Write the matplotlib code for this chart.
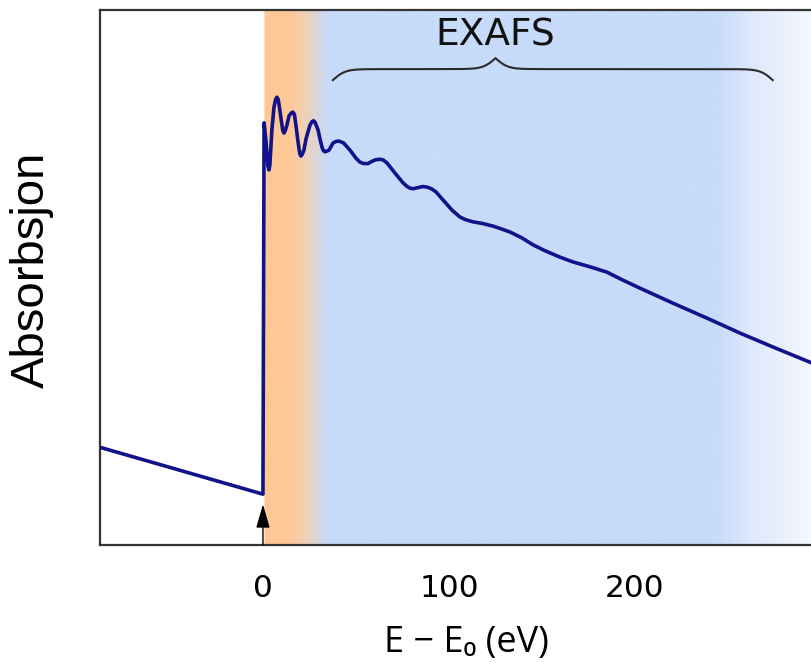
import numpy as np
import matplotlib
matplotlib.use("Agg")
import matplotlib.pyplot as plt
from matplotlib.colors import to_rgb

# ---------------- data ----------------
energy = [-88.0, 0.0, 0.6, 1.6, 2.7, 3.2, 3.7, 4.8, 5.9, 6.8, 7.5, 8.2, 9.2, 10.2, 10.7,
          11.3, 11.9, 12.9, 14.0, 15.3, 16.1, 16.9, 17.7, 18.8, 19.8, 20.4, 21.1, 22.0,
          23.2, 24.2, 25.3, 26.3, 27.2, 28.0, 29.6, 30.7, 31.7, 32.5, 33.3, 34.2,
          35.5, 37.6, 39.0, 40.3, 41.7, 43.5, 46.8, 50.0, 52.0, 54.0, 56.5, 58.5,
          60.5, 62.9, 64.5, 66.7, 71.0, 75.3, 77.5, 79.0, 80.8, 83.3, 86.0, 88.2,
          90.5, 93.0, 97.8, 101.6, 105.9, 109.0, 112.9, 118.0, 123.7, 128.0, 132.8,
          139.2, 145.2, 151.6, 159.7, 166.7, 175.8, 184.9, 193.5, 202.7, 220.4, 238.7,
          256.5, 274.2, 295.2, 310.0]
absorption = [18.3, 9.5, 78.9, 75.5, 70.8, 70.1, 71.0, 77.6, 81.8, 83.3, 83.7, 83.3,
              81.0, 78.5, 77.4, 77.0, 77.4, 78.5, 80.2, 80.8, 80.9, 80.5, 78.5, 75.5,
              73.1, 72.7, 73.0, 73.8, 76.0, 77.2, 78.5, 79.1, 79.3, 79.0, 77.6, 75.8,
              74.4, 73.7, 73.5, 73.6, 73.8, 75.1, 75.4, 75.5, 75.4, 75.1, 73.8, 72.3,
              71.6, 71.3, 71.3, 71.7, 72.0, 72.1, 72.0, 71.4, 69.5, 67.7, 67.0, 66.7,
              66.6, 66.8, 67.0, 66.9, 66.6, 66.0, 64.1, 62.6, 61.3, 60.8, 60.4, 60.1,
              59.6, 59.1, 58.5, 57.4, 56.1, 55.0, 53.8, 52.9, 52.0, 51.0, 49.5, 48.0,
              45.2, 42.4, 39.6, 37.0, 34.0, 31.3]

xticks = [0, 100, 200]
region_label = "EXAFS"
brace_span = (37.6, 125.0, 274.0)   # left end, tip, right end (eV)

# ---------------- figure ----------------
W, H = 812, 665
fig = plt.figure(figsize=(W / 100, H / 100), dpi=100)
ax = fig.add_axes([100 / W, 120 / H, 730 / W, 535 / H])
ax.set_xlim(-87.6, 304.8)
ax.set_ylim(0, 100)

# background gradient (white -> orange -> blue -> white)
stops = [(-88, "#ffffff"), (0.6, "#ffffff"), (0.61, "#fec894"), (13, "#fec894"),
         (21, "#f5cfae"), (35, "#c7dbfa"), (244, "#c7dbfa"), (262, "#dde8fc"),
         (296, "#f6f9ff"), (310, "#ffffff")]
xs = np.linspace(-88, 310, 2000)
sx = [s[0] for s in stops]
cols = np.array([to_rgb(s[1]) for s in stops])
img = np.stack([np.interp(xs, sx, cols[:, k]) for k in range(3)], axis=-1)[None, :, :]
ax.imshow(img, extent=[-88, 310, 0, 100], aspect="auto", zorder=0, interpolation="bilinear")

# spectrum
ax.plot(energy, absorption, color="#12128a", lw=2.6, solid_joinstyle="round",
        solid_capstyle="round", zorder=3)

# edge arrow
ax.annotate("", xy=(0, 7.6), xytext=(0, 0),
            arrowprops=dict(arrowstyle="-|>,head_length=1.45,head_width=0.42",
                            color="black", lw=1.0, shrinkA=0, shrinkB=0), zorder=4)

# brace
def half_brace(x_end, x_tip, y_end, height, beta, n=300):
    t = np.linspace(0, 1, n)
    L = abs(x_tip - x_end)
    d = t * L
    yh = 1 / (1 + np.exp(-beta * d)) + 1 / (1 + np.exp(-beta * (d - L)))
    x = x_end + np.sign(x_tip - x_end) * d
    return x, y_end + (yh - 0.5) * height

xl, yl = half_brace(brace_span[0], brace_span[1], 86.9, 4.1, 0.3)
xr, yr = half_brace(brace_span[2], brace_span[1], 86.9, 4.1, 0.3)
ax.plot(np.concatenate([xl, xr[::-1]]), np.concatenate([yl, yr[::-1]]),
        color="#2b2b2b", lw=1.5, zorder=3)
ax.text(brace_span[1], 95.3, region_label, ha="center", va="center",
        fontsize=27, color="#111111", family="DejaVu Sans")

# axes styling
ax.set_xticks(xticks)
ax.set_xticklabels([str(v) for v in xticks], fontsize=22.5, family="DejaVu Sans")
ax.tick_params(axis="x", length=0, pad=21)
ax.set_yticks([])
for s in ax.spines.values():
    s.set_color("#333333")
    s.set_linewidth(1.6)

fig.text(32 / W, 1 - 270 / H, "Absorbsjon", rotation=90, ha="center", va="center",
         fontsize=34, family="Liberation Sans")
fig.text(466 / W, 1 - 643 / H, "E − E₀ (eV)", ha="center", va="center",
         fontsize=26, family=["Open Sans", "DejaVu Sans"])

fig.savefig("out.png", dpi=100)
